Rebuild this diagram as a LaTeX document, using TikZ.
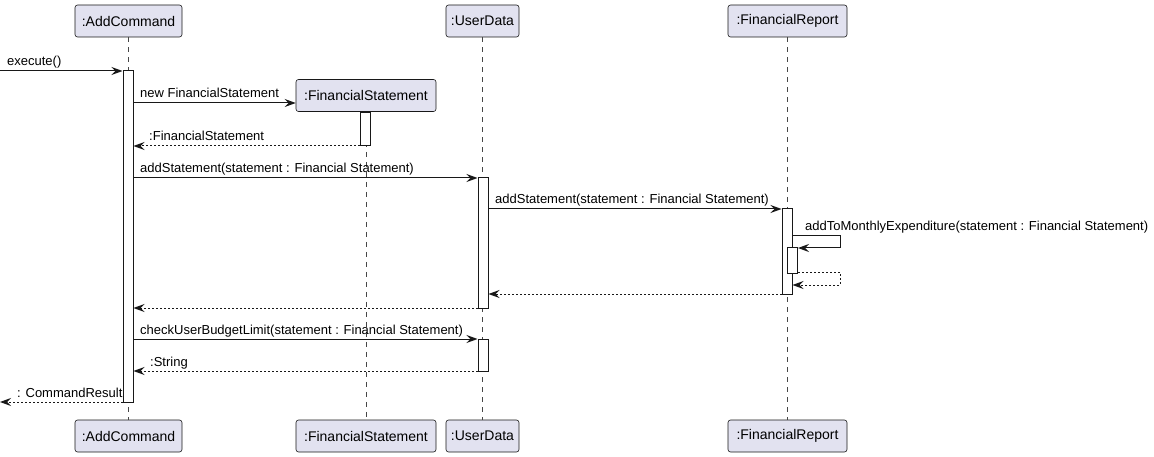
\documentclass[tikz,border=0pt]{standalone}
\usepackage{fontspec}
\setmainfont{Liberation Sans}
\usetikzlibrary{arrows.meta}
\definecolor{pfill}{HTML}{E2E2F0}
\definecolor{pline}{HTML}{181818}
\begin{document}
\begin{tikzpicture}[x=1pt,y=-1pt,
  part/.style={draw=pline, fill=pfill, rounded corners=2.5pt, line width=0.6pt,
    minimum height=32pt, inner sep=0pt, font=\fontsize{14}{16}\selectfont},
  life/.style={draw=pline!80, line width=0.5pt, dash pattern=on 5pt off 5pt},
  act/.style={draw=pline, fill=white, line width=1pt, minimum width=10pt, inner sep=0pt},
  msg/.style={draw=pline, line width=1pt, -{Stealth[length=11pt,width=8pt,inset=4pt]}},
  ret/.style={msg, dash pattern=on 2pt off 2pt},
  lbl/.style={anchor=base west, inner sep=0pt, font=\fontsize{13}{15}\selectfont}]
\useasboundingbox (0,0) rectangle (1154,457);
% participants
\node[part, minimum width=107pt] (ac) at (128.5,21) {:AddCommand};
\node[part, minimum width=140pt] (fs) at (366,95.5) {:FinancialStatement};
\node[part, minimum width=73pt] (ud) at (482.5,21) {:UserData};
\node[part, minimum width=119pt] (fr) at (787.5,21) {:FinancialReport};
\node[part, minimum width=107pt] (acb) at (128.5,436) {:AddCommand};
\node[part, minimum width=140pt] (fsb) at (366,436) {:FinancialStatement};
\node[part, minimum width=73pt] (udb) at (482.5,436) {:UserData};
\node[part, minimum width=119pt] (frb) at (787.5,436) {:FinancialReport};
% lifelines
\draw[life] (ac.south) -- (acb.north);
\draw[life] (fs.south) -- (fsb.north);
\draw[life] (ud.south) -- (udb.north);
\draw[life] (fr.south) -- (frb.north);
% activations
\node[act, minimum height=331pt] (a1) at (128,236.5) {};
\node[act, minimum height=33pt] (f1) at (365,129.5) {};
\node[act, minimum height=130pt] (u1) at (483,243) {};
\node[act, minimum height=32pt] (u2) at (483,355) {};
\node[act, minimum height=85pt] (r1) at (787,251.5) {};
\node[act, minimum height=25pt] (r2) at (792.5,260.5) {};
% free ends
\coordinate (inL) at (0,71);
\coordinate (outL) at (0,402);
\coordinate (selfA) at (840,236);
\coordinate (selfB) at (840,248);
\coordinate (selfC) at (840,272);
\coordinate (selfD) at (840,285);
% messages
\draw[msg] (inL) -- (a1.west |- inL);
\node[lbl] (m1) at (7,66) {execute()};
\draw[msg] (a1.east |- 0,103) -- (fs.west |- 0,103);
\node[lbl] (m2) at (140,98) {new FinancialStatement};
\draw[ret] (f1.west |- 0,146) -- (a1.east |- 0,146);
\node[lbl] (m3) at (149,141) {:FinancialStatement};
\draw[msg] (a1.east |- 0,178) -- (u1.west |- 0,178);
\node[lbl] (m4) at (140,173) {addStatement(statement : Financial Statement)};
\draw[msg] (u1.east |- 0,209) -- (r1.west |- 0,209);
\node[lbl] (m5) at (495,204) {addStatement(statement : Financial Statement)};
\draw[msg] (r1.east |- selfA) -- (selfA) -- (selfB) -- (r2.east |- selfB);
\node[lbl] (m6) at (805,230) {addToMonthlyExpenditure(statement : Financial Statement)};
\draw[ret] (r2.east |- selfC) -- (selfC) -- (selfD) -- (r1.east |- selfD);
\draw[ret] (r1.west |- 0,294) -- (u1.east |- 0,294);
\draw[ret] (u1.west |- 0,308) -- (a1.east |- 0,308);
\draw[msg] (a1.east |- 0,339) -- (u2.west |- 0,339);
\node[lbl] (m7) at (140,334) {checkUserBudgetLimit(statement : Financial Statement)};
\draw[ret] (u2.west |- 0,371) -- (a1.east |- 0,371);
\node[lbl] (m8) at (150,366) {:String};
\draw[ret] (a1.west |- outL) -- (outL);
\node[lbl] (m9) at (17,397) {: CommandResult};
\end{tikzpicture}
\end{document}
